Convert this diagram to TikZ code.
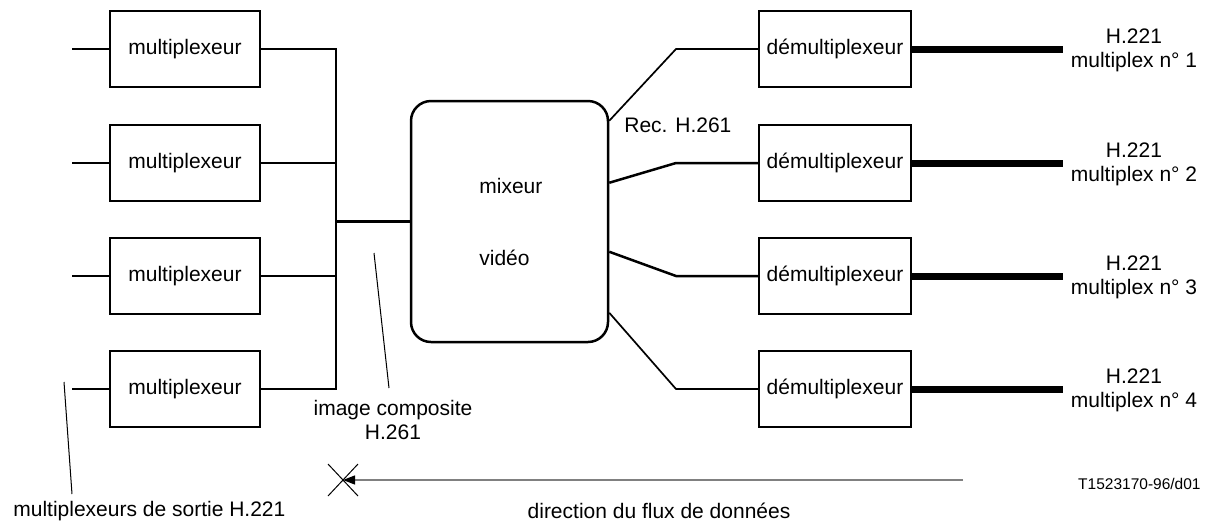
\documentclass[tikz,border=0pt]{standalone}
\usepackage{fontspec}
\setmainfont{Liberation Sans}
\usetikzlibrary{arrows.meta,calc}
\begin{document}
\begin{tikzpicture}[x=0.5pt,y=-0.5pt,
  txt/.style={font=\fontsize{10.5}{12.6}\selectfont},
  box/.style={draw,line width=1pt,minimum width=75pt,minimum height=38pt,inner sep=0pt,txt},
  dbox/.style={box,minimum width=76pt},
  lbl/.style={inner sep=0pt,txt},
  wire/.style={line width=1.25pt},
  thinwire/.style={line width=0.85pt},
  fat/.style={line width=3.5pt},
  leader/.style={line width=0.5pt}]
\useasboundingbox (0,0) rectangle (1211,527);

% left multiplexers
\foreach \k/\y in {1/49,2/163,3/276,4/389}{
  \node[box] (m\k) at (185,\y) {multiplexeur};
  \coordinate (i\k) at (72,\y);
  \draw[wire] (i\k) -- (m\k.west);
}
\coordinate (bt) at (336,49);
\coordinate (bb) at (336,389);
\draw[thinwire] (m1.east) -- (bt) -- (bb) -- (m4.east);
\draw[wire] (m2.east) -- (m2.east -| bt);
\draw[wire] (m3.east) -- (m3.east -| bt);

% mixer
\node[draw,rounded corners=10pt,line width=1.25pt,minimum width=98.5pt,minimum height=120.5pt,inner sep=0pt] (mix) at (509.5,221.5) {};
\node[lbl,anchor=west] (mx1) at (479,186) {mixeur};
\node[lbl,anchor=west] (mx2) at (479,258) {vidéo};
\draw[wire] (mix.west) -- (mix.west -| bt);

% demultiplexers
\foreach \k/\y/\d in {1/49/21,2/163/83,3/276/152,4/389/213}{
  \node[dbox] (d\k) at (835,\y) {démultiplexeur};
  \coordinate (r\k) at ($(mix.north east)+(0,\d)$);
  \coordinate (b\k) at (676,\y);
  \coordinate (t\k) at (1063,\y);
  \draw[fat] (d\k.east) -- (t\k);
  \node[lbl] (h\k) at (1134,\y-13) {H.221};
  \node[lbl] (n\k) at (1134,\y+13) {multiplex n° \k};
}
\draw[thinwire] (r1) -- (b1) -- (d1.west);
\draw[wire] (r2) -- (b2) -- (d2.west);
\draw[wire] (r3) -- (b3) -- (d3.west);
\draw[thinwire] (r4) -- (b4) -- (d4.west);

\node[lbl,anchor=west] (rec) at (624,125) {Rec. H.261};

% annotations
\node[lbl] (ic1) at (393,410) {image composite};
\node[lbl] (ic2) at (393,432) {H.261};
\coordinate (lc1) at (374,253);
\coordinate (lc2) at (389,388);
\draw[leader] (lc1) -- (lc2);

\node[lbl,anchor=west] (ms) at (13,511) {multiplexeurs de sortie H.221};
\coordinate (ls1) at (64,382);
\coordinate (ls2) at (72,494);
\draw[leader] (ls1) -- (ls2);

% data flow arrow
\coordinate (ae) at (963,480);
\coordinate (ax) at (343,480);
\draw[gray,line width=0.6pt,-{Triangle[length=6pt,width=4.5pt,black]}] (ae) -- (ax);
\draw[leader] ($(ax)+(-15,-16)$) -- ($(ax)+(15,16)$);
\draw[leader] ($(ax)+(-15,16)$) -- ($(ax)+(15,-16)$);
\node[lbl] (df) at (659,511) {direction du flux de données};

\node[inner sep=0pt,anchor=east,font=\fontsize{7.75}{9}\selectfont] (ref) at (1201,484) {T1523170-96/d01};
\end{tikzpicture}
\end{document}
